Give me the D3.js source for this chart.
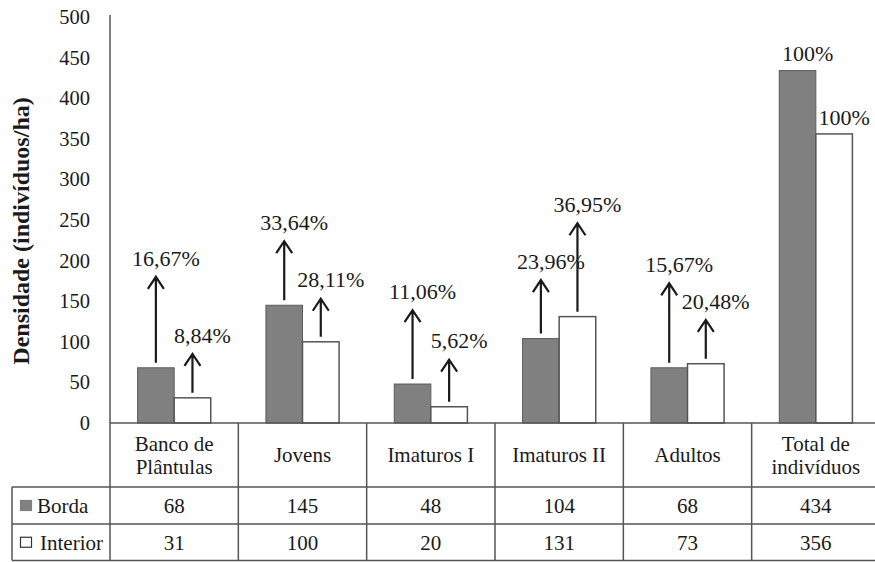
<!DOCTYPE html>
<html>
<head>
<meta charset="utf-8">
<script src="https://cdn.jsdelivr.net/npm/d3@7"></script>
<style>
  body { margin: 0; background: #fff; }
  text { font-family: "Liberation Serif", "Times New Roman", serif; fill: #1a1a1a; }
</style>
</head>
<body>
<script>
// categories (header lines of the table)
var categories = ["Banco de Plântulas", "Jovens", "Imaturos I", "Imaturos II", "Adultos", "Total de indivíduos"];
var categoryLines = [["Banco de", "Plântulas"], ["Jovens"], ["Imaturos I"], ["Imaturos II"], ["Adultos"], ["Total de", "indivíduos"]];

// densities (indivíduos/ha)
var borda = [68, 145, 48, 104, 68, 434];
var interior = [31, 100, 20, 131, 73, 356];

// percentage annotations
var bordaPct = ["16,67%", "33,64%", "11,06%", "23,96%", "15,67%", "100%"];
var interiorPct = ["8,84%", "28,11%", "5,62%", "36,95%", "20,48%", "100%"];

// arrow tip level (density units), null = no arrow
var bordaArrow = [180, 224, 139, 176, 172, null];
var interiorArrow = [85, 153, 78, 246, 127, null];

var yTicks = [0, 50, 100, 150, 200, 250, 300, 350, 400, 450, 500];
var seriesNames = ["Borda", "Interior"];

var W = 875, H = 562;
var svg = d3.select("body").append("svg")
    .attr("width", W)
    .attr("height", H);

var plotLeft = 110, plotRight = 880, plotTop = 17, base = 423;
var rowH = [64, 37, 37];

var x = d3.scaleBand()
    .domain(categories)
    .range([plotLeft, plotRight])
    .padding(0);

var y = d3.scaleLinear()
    .domain([0, 500])
    .range([base, plotTop]);

var bw = x.bandwidth() * 0.285;
var grey = "#808080", lineCol = "#555";

function cx(d, i) { return x(categories[i]) + x.bandwidth() / 2; }

// y axis
var yAxis = svg.append("g")
    .attr("transform", "translate(" + plotLeft + ",0)")
    .call(d3.axisLeft(y).tickValues(yTicks).tickSize(0).tickPadding(20));
yAxis.select(".domain").remove();
yAxis.selectAll("text")
    .style("font-family", "Liberation Serif, serif")
    .style("font-size", "20.5px")
    .attr("fill", "#1a1a1a");

svg.append("text")
    .attr("transform", "translate(21," + 231 + ") rotate(-90)")
    .attr("text-anchor", "middle")
    .attr("dy", "0.35em")
    .style("font-size", "24px")
    .style("font-weight", "bold")
    .text("Densidade (indivíduos/ha)");

// bars
svg.append("g").selectAll("rect")
    .data(borda)
    .enter().append("rect")
    .attr("x", function (d, i) { return cx(d, i) - bw; })
    .attr("y", function (d) { return y(d); })
    .attr("width", bw)
    .attr("height", function (d) { return base - y(d); })
    .attr("fill", grey)
    .attr("stroke", "#5a5a5a")
    .attr("stroke-width", 1);

svg.append("g").selectAll("rect")
    .data(interior)
    .enter().append("rect")
    .attr("x", function (d, i) { return cx(d, i); })
    .attr("y", function (d) { return y(d); })
    .attr("width", bw)
    .attr("height", function (d) { return base - y(d); })
    .attr("fill", "#fff")
    .attr("stroke", lineCol)
    .attr("stroke-width", 1.5);

// arrows and labels
function annotate(values, tips, labels, shift) {
    var g = svg.append("g");
    values.forEach(function (v, i) {
        var ax = cx(v, i) + shift;
        var ly;
        if (tips[i] != null) {
            var y0 = y(v) - 5, y1 = y(tips[i]);
            g.append("path")
                .attr("d", "M" + ax + "," + y0 + "V" + y1 +
                    "M" + (ax - 8) + "," + (y1 + 12) + "L" + ax + "," + y1 + "L" + (ax + 8) + "," + (y1 + 12))
                .attr("fill", "none")
                .attr("stroke", "#1a1a1a")
                .attr("stroke-width", 2.2);
            ly = y1 - 19;
        } else {
            ly = y(v) - 17;
        }
        g.append("text")
            .attr("x", ax + 10)
            .attr("y", ly)
            .attr("dy", "0.35em")
            .attr("text-anchor", "middle")
            .style("font-size", "22px")
            .text(labels[i]);
    });
}
annotate(borda, bordaArrow, bordaPct, -bw / 2);
annotate(interior, interiorArrow, interiorPct, bw / 2);

// data table
var table = svg.append("g");
var rowY = [base, base + rowH[0], base + rowH[0] + rowH[1], base + rowH[0] + rowH[1] + rowH[2] - 0.5];

table.selectAll("line.h")
    .data(rowY)
    .enter().append("line")
    .attr("x1", function (d, i) { return i == 0 ? plotLeft : 12; })
    .attr("x2", plotRight)
    .attr("y1", function (d) { return d; })
    .attr("y2", function (d) { return d; })
    .attr("stroke", lineCol)
    .attr("stroke-width", 1.5);

// axis line + column separators
table.append("line")
    .attr("x1", plotLeft).attr("x2", plotLeft)
    .attr("y1", plotTop - 2).attr("y2", rowY[3])
    .attr("stroke", lineCol).attr("stroke-width", 1.5);
table.append("line")
    .attr("x1", 12).attr("x2", 12)
    .attr("y1", rowY[1]).attr("y2", rowY[3])
    .attr("stroke", lineCol).attr("stroke-width", 1.5);
table.selectAll("line.v")
    .data(categories.slice(1))
    .enter().append("line")
    .attr("x1", function (d) { return x(d); })
    .attr("x2", function (d) { return x(d); })
    .attr("y1", base)
    .attr("y2", rowY[3])
    .attr("stroke", lineCol)
    .attr("stroke-width", 1.5);

// header text
categoryLines.forEach(function (lines, i) {
    var t = table.append("text")
        .attr("text-anchor", "middle")
        .style("font-size", "21px");
    var mid = base + rowH[0] / 2;
    lines.forEach(function (s, j) {
        t.append("tspan")
            .attr("x", x(categories[i]) + x.bandwidth() / 2)
            .attr("y", mid + 7 + (j - (lines.length - 1) / 2) * 23)
            .text(s);
    });
});

// value rows
[borda, interior].forEach(function (vals, r) {
    var mid = (rowY[r + 1] + rowY[r + 2]) / 2;
    table.selectAll(null)
        .data(vals)
        .enter().append("text")
        .attr("x", function (d, i) { return cx(d, i); })
        .attr("y", mid)
        .attr("dy", "0.35em")
        .attr("text-anchor", "middle")
        .style("font-size", "21px")
        .text(function (d) { return d; });

    table.append("rect")
        .attr("x", 20.5)
        .attr("y", mid - 5)
        .attr("width", 11)
        .attr("height", 10)
        .attr("fill", r == 0 ? grey : "#fff")
        .attr("stroke", r == 0 ? grey : "#333")
        .attr("stroke-width", 1.2);

    table.append("text")
        .attr("x", r == 0 ? 37 : 40)
        .attr("y", mid)
        .attr("dy", "0.35em")
        .style("font-size", "21px")
        .text(seriesNames[r]);
});
</script>
</body>
</html>
